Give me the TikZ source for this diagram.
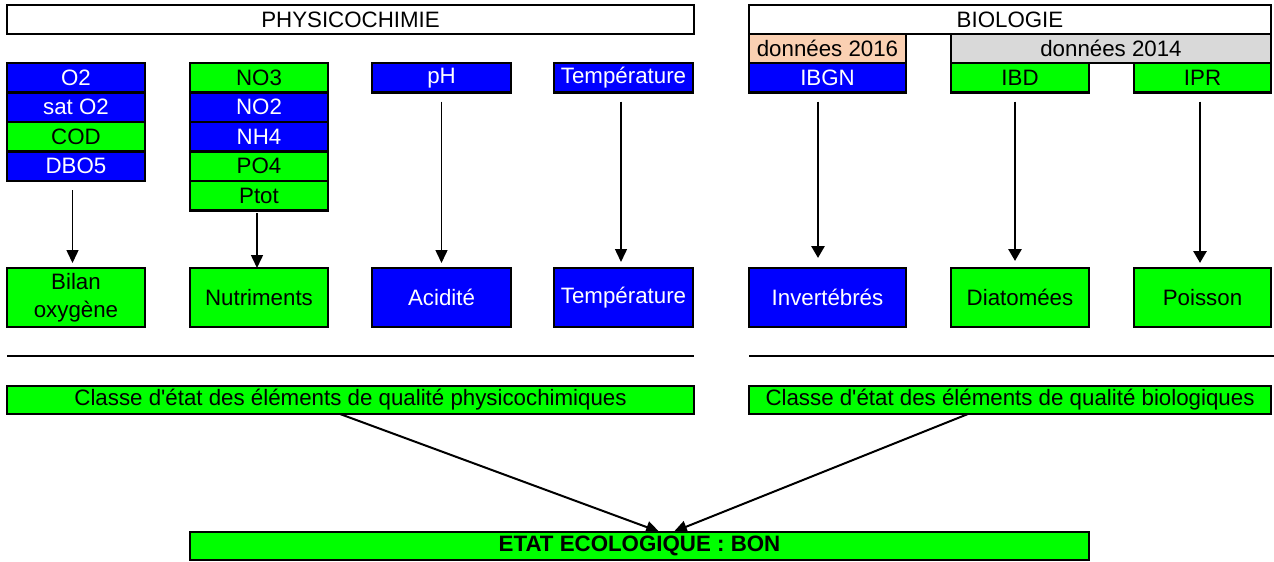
\documentclass[tikz,border=0pt]{standalone}
\usepackage{fontspec}
\setmainfont{Liberation Sans}
\usetikzlibrary{arrows.meta}
\newcommand\straightapos{\XeTeXglyph\XeTeXcharglyph"0027\relax}
\definecolor{xblue}{RGB}{0,0,255}
\definecolor{xgreen}{RGB}{0,255,0}
\definecolor{xpeach}{RGB}{250,208,178}
\definecolor{xgrey}{RGB}{217,217,217}
\tikzset{
  cell/.style={draw=black, line width=2.5pt, inner sep=0pt, outer sep=0pt, align=center,
    font=\fontsize{22.3}{27.5}\selectfont},
  gcell/.style={cell, fill=xgreen, text=black},
  bcell/.style={cell, fill=xblue, text=white},
  wcell/.style={cell, fill=white, text=black},
  pcell/.style={cell, fill=xpeach, text=black},
  ycell/.style={cell, fill=xgrey, text=black},
  thinarrow/.style={line width=1.5pt, -{Triangle[length=13pt,width=12pt]}},
  thickarrow/.style={line width=2.8pt, -{Triangle[length=12pt,width=13pt]}},
  midarrow/.style={line width=2pt, -{Triangle[length=13pt,width=12pt]}},
  sepline/.style={line width=2.2pt, draw=black},
}
\begin{document}
\begin{tikzpicture}[x=1pt,y=-1pt]
\useasboundingbox[fill=white] (0,0) rectangle (1274,562);

% titles
\node[wcell, minimum width=687pt, minimum height=29pt] (phys) at (350.5,19.5) {PHYSICOCHIMIE};
\node[wcell, minimum width=522pt, minimum height=29pt] (bio) at (1010,19.5) {BIOLOGIE};

% column 1
\node[bcell, minimum width=138pt, minimum height=29.5pt] (o2) at (76,77.75) {O2};
\node[bcell, minimum width=138pt, minimum height=29.5pt] (sato2) at (76,107.25) {sat O2};
\node[gcell, minimum width=138pt, minimum height=29.5pt] (cod) at (76,136.75) {COD};
\node[bcell, minimum width=138pt, minimum height=29.5pt] (dbo) at (76,166.25) {DBO5};

% column 2
\node[gcell, minimum width=138pt, minimum height=29.5pt] (no3) at (259,77.75) {NO3};
\node[bcell, minimum width=138pt, minimum height=29.5pt] (no2) at (259,107.25) {NO2};
\node[bcell, minimum width=138pt, minimum height=29.5pt] (nh4) at (259,136.75) {NH4};
\node[gcell, minimum width=138pt, minimum height=29.5pt] (po4) at (259,166.25) {PO4};
\node[gcell, minimum width=138pt, minimum height=29.5pt] (ptot) at (259,195.75) {Ptot};

% columns 3 and 4
\node[bcell, minimum width=139pt, minimum height=29.5pt] (ph) at (441.5,77.75) {pH};
\node[bcell, minimum width=139pt, minimum height=29.5pt] (temp) at (623.5,77.75) {Température};

% biology headers
\node[pcell, minimum width=157pt, minimum height=29pt] (d16) at (827.5,48.5) {données 2016};
\node[ycell, minimum width=320pt, minimum height=29pt] (d14) at (1111,48.5) {données 2014};
\node[bcell, minimum width=157pt, minimum height=29.5pt] (ibgn) at (827.5,77.75) {IBGN};
\node[gcell, minimum width=138pt, minimum height=29.5pt] (ibd) at (1020,77.75) {IBD};
\node[gcell, minimum width=137pt, minimum height=29.5pt] (ipr) at (1202.5,77.75) {IPR};

% second row
\node[gcell, minimum width=138pt, minimum height=59pt] (bilan) at (76,297.5) {Bilan\\oxygène};
\node[gcell, minimum width=138pt, minimum height=59pt] (nutri) at (259,297.5) {Nutriments};
\node[bcell, minimum width=139pt, minimum height=59pt] (acid) at (441.5,297.5) {Acidité};
\node[bcell, minimum width=139pt, minimum height=59pt] (tempb) at (623.5,297.5) {Température};
\node[bcell, minimum width=157pt, minimum height=59pt] (inv) at (827.5,297.5) {Invertébrés};
\node[gcell, minimum width=138pt, minimum height=59pt] (diat) at (1020,297.5) {Diatomées};
\node[gcell, minimum width=137pt, minimum height=59pt] (pois) at (1202.5,297.5) {Poisson};

% separator lines
\draw[sepline] (7,356) -- (694,356);
\draw[sepline] (749,356) -- (1274,356);

% class boxes
\node[gcell, minimum width=687pt, minimum height=28pt] (cphys) at (350.5,400) {Classe d\straightapos état des éléments de qualité physicochimiques};
\node[gcell, minimum width=522pt, minimum height=28pt] (cbio) at (1010,400) {Classe d\straightapos état des éléments de qualité biologiques};

% final
\node[gcell, minimum width=899pt, minimum height=28pt, font=\fontsize{22.3}{27.5}\selectfont\bfseries] (etat) at (639.5,546) {ETAT ECOLOGIQUE : BON};

% arrows
\draw[thinarrow, shorten <=9pt, shorten >=5pt] ([xshift=-3.5pt]dbo.south) -- ([xshift=-3.5pt]bilan.north);
\draw[thinarrow, shorten <=2.5pt] ([xshift=-2pt]ptot.south) -- ([xshift=-2pt]nutri.north);
\draw[thinarrow, shorten <=9pt, shorten >=5pt] (ph.south) -- (acid.north);
\draw[thinarrow, shorten <=9pt, shorten >=6pt] ([xshift=-2.5pt]temp.south) -- ([xshift=-2.5pt]tempb.north);
\draw[thickarrow, shorten <=9pt, shorten >=10pt] ([xshift=-9.5pt]ibgn.south) -- ([xshift=-9.5pt]inv.north);
\draw[thickarrow, shorten <=9pt, shorten >=7pt] ([xshift=-5pt]ibd.south) -- ([xshift=-5pt]diat.north);
\draw[thickarrow, shorten <=9pt, shorten >=5pt] ([xshift=-2.5pt]ipr.south) -- ([xshift=-2.5pt]pois.north);
\draw[midarrow, shorten >=1pt] ([xshift=-10.5pt]cphys.south) -- ([xshift=20.5pt]etat.north);
\draw[midarrow, shorten >=1pt] ([xshift=-42pt]cbio.south) -- ([xshift=33.5pt]etat.north);
\end{tikzpicture}
\end{document}
